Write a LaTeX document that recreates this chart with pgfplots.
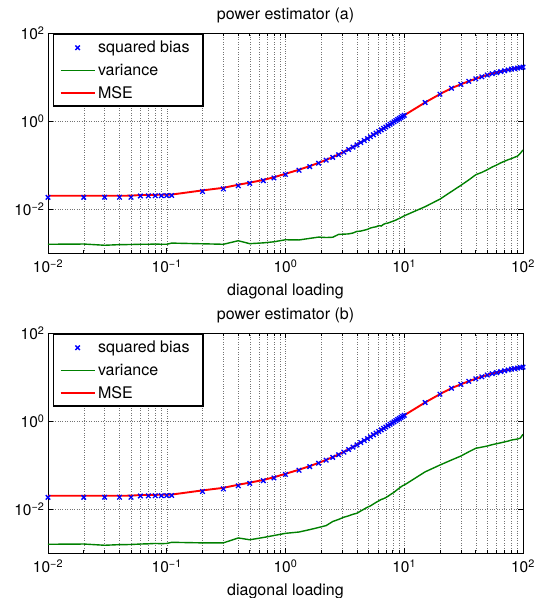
\documentclass[border=0pt]{standalone}
\usepackage{fontspec}
\setmainfont{TeX Gyre Heros}
\usepackage{pgfplots}
\usepackage{pgfplotstable}
\pgfplotsset{compat=1.18}
\pgfplotsset{
  linelegend/.style={legend image code/.code={\draw[##1] (0pt,0pt) -- (34pt,0pt);}},
  marklegend/.style={legend image code/.code={\draw[mark repeat=2,mark phase=2,##1] plot coordinates {(0pt,0pt) (17pt,0pt) (34pt,0pt)};}},
}
\pgfplotstableread{
x bias mse vara varb
0.01 0.0184 0.0200 0.00158 0.00158
0.02 0.0184 0.0200 0.00160 0.00160
0.03 0.0185 0.0200 0.00150 0.00150
0.04 0.0185 0.0200 0.00155 0.00155
0.05 0.0185 0.0201 0.00156 0.00156
0.06 0.0198 0.0208 0.00158 0.00160
0.07 0.0199 0.0209 0.00158 0.00162
0.08 0.0200 0.0210 0.00160 0.00165
0.09 0.0201 0.0211 0.00158 0.00163
0.1 0.0202 0.0212 0.00158 0.00165
0.11 0.0203 0.0213 0.00168 0.00175
0.2 0.0250 0.0265 0.00162 0.00170
0.3 0.0287 0.0303 0.00158 0.00170
0.4 0.0337 0.0356 0.00190 0.00220
0.5 0.0382 0.0398 0.00163 0.00200
0.65 0.0440 0.0457 0.00170 0.00225
0.8 0.0509 0.0527 0.00180 0.00250
1.0 0.0611 0.0631 0.00200 0.00280
1.3 0.0762 0.0782 0.00198 0.00300
1.6 0.0920 0.0942 0.00215 0.00340
1.9 0.110 0.112 0.00230 0.00380
2.2 0.129 0.131 0.00225 0.00420
2.5 0.149 0.151 0.00228 0.00520
2.8 0.171 0.174 0.00265 0.00580
3.1 0.196 0.199 0.00268 0.00650
3.4 0.225 0.228 0.00272 0.00700
3.7 0.255 0.258 0.00285 0.00760
4.0 0.287 0.290 0.00310 0.00800
4.3 0.324 0.327 0.00315 0.00900
4.6 0.360 0.363 0.00330 0.01000
4.9 0.398 0.402 0.00345 0.01100
5.2 0.440 0.444 0.00370 0.01180
5.5 0.485 0.489 0.00385 0.01300
5.8 0.531 0.535 0.00395 0.01420
6.1 0.578 0.582 0.00420 0.01530
6.4 0.628 0.632 0.00410 0.01650
6.7 0.679 0.683 0.00450 0.01720
7.0 0.730 0.735 0.00470 0.01820
7.3 0.784 0.789 0.00480 0.01950
7.6 0.840 0.845 0.00500 0.02100
7.9 0.898 0.903 0.00520 0.02250
8.2 0.957 0.962 0.00540 0.02400
8.5 1.017 1.023 0.00560 0.02600
8.8 1.080 1.086 0.00590 0.02800
9.1 1.142 1.148 0.00610 0.03000
9.4 1.208 1.214 0.00640 0.03200
9.7 1.275 1.282 0.00670 0.03400
10 1.342 1.349 0.00700 0.03500
15 2.63 2.64 0.0113 0.070
20 4.07 4.09 0.0168 0.100
25 5.55 5.58 0.025 0.130
30 6.81 6.84 0.0345 0.160
35 7.97 8.02 0.046 0.200
40 9.10 9.16 0.060 0.240
45 10.1 10.2 0.068 0.255
50 11.1 11.2 0.078 0.270
55 11.9 12.0 0.090 0.290
60 12.6 12.7 0.100 0.305
65 13.3 13.4 0.112 0.320
70 13.9 14.0 0.122 0.335
75 14.5 14.6 0.132 0.350
80 15.1 15.2 0.140 0.370
85 15.5 15.7 0.150 0.380
90 15.9 16.1 0.160 0.390
95 16.4 16.6 0.185 0.410
100 16.8 17.0 0.220 0.500
}\data
\definecolor{mgreen}{rgb}{0,0.5,0}
\begin{document}
\begin{tikzpicture}
\path[use as bounding box] (0pt,0pt) rectangle (536pt,-598pt);
\begin{loglogaxis}[at={(48pt,-253pt)}, anchor=south west, title={power estimator (a)},
    scale only axis, width=475pt, height=220pt,
    xmin=0.01, xmax=100, ymin=1e-3, ymax=1e2,
    xtick={0.01,0.1,1,10,100},
    xticklabels={10\textsuperscript{−2},10\textsuperscript{−1},10\textsuperscript{0},10\textsuperscript{1},10\textsuperscript{2}},
    minor xtick={0.02,0.03,0.04,0.05,0.06,0.07,0.08,0.09,0.2,0.3,0.4,0.5,0.6,0.7,0.8,0.9,2,3,4,5,6,7,8,9,20,30,40,50,60,70,80,90},
    ytick={0.01,1,100},
    yticklabels={10\textsuperscript{−2},10\textsuperscript{0},10\textsuperscript{2}},
    minor ytick={},
    xmajorgrids, xminorgrids, ymajorgrids,
    grid style={dotted, black!55, line width=0.45pt},
    minor grid style={dotted, black!55, line width=0.45pt},
    tick align=inside, major tick length=5pt, minor tick length=3pt,
    tick style={black, line width=0.6pt},
    axis line style={line width=0.8pt},
    ticklabel style={font=\fontsize{15.5}{18}\selectfont},
    xticklabel style={yshift=-3pt},
    label style={font=\fontsize{16}{19}\selectfont},
    xlabel style={yshift=-4pt},
    title style={font=\fontsize{16}{19}\selectfont},
    xlabel={diagonal loading},
    legend cell align=left,
    legend style={at={(0,1)}, anchor=north west, xshift=5pt, yshift=-1pt,
      line width=1.3pt, font=\fontsize{16}{19}\selectfont,
      inner xsep=6pt, inner ysep=4pt, row sep=4.5pt, nodes={inner sep=2.5pt}}]
\addplot[only marks, mark=x, blue, mark size=3.2pt, line width=1.3pt, marklegend] table[x=x,y=bias] {\data};
\addlegendentry{squared bias\hspace*{5pt}}
\addplot[mgreen, line width=1.4pt, no marks, linelegend] table[x=x,y=vara] {\data};
\addlegendentry{variance}
\addplot[red, line width=1.9pt, no marks, linelegend] table[x=x,y=mse] {\data};
\addlegendentry{MSE}
\end{loglogaxis}
\begin{loglogaxis}[at={(48pt,-553pt)}, anchor=south west, title={power estimator (b)},
    scale only axis, width=475pt, height=220pt,
    xmin=0.01, xmax=100, ymin=1e-3, ymax=1e2,
    xtick={0.01,0.1,1,10,100},
    xticklabels={10\textsuperscript{−2},10\textsuperscript{−1},10\textsuperscript{0},10\textsuperscript{1},10\textsuperscript{2}},
    minor xtick={0.02,0.03,0.04,0.05,0.06,0.07,0.08,0.09,0.2,0.3,0.4,0.5,0.6,0.7,0.8,0.9,2,3,4,5,6,7,8,9,20,30,40,50,60,70,80,90},
    ytick={0.01,1,100},
    yticklabels={10\textsuperscript{−2},10\textsuperscript{0},10\textsuperscript{2}},
    minor ytick={},
    xmajorgrids, xminorgrids, ymajorgrids,
    grid style={dotted, black!55, line width=0.45pt},
    minor grid style={dotted, black!55, line width=0.45pt},
    tick align=inside, major tick length=5pt, minor tick length=3pt,
    tick style={black, line width=0.6pt},
    axis line style={line width=0.8pt},
    ticklabel style={font=\fontsize{15.5}{18}\selectfont},
    xticklabel style={yshift=-3pt},
    label style={font=\fontsize{16}{19}\selectfont},
    xlabel style={yshift=-4pt},
    title style={font=\fontsize{16}{19}\selectfont},
    xlabel={diagonal loading},
    legend cell align=left,
    legend style={at={(0,1)}, anchor=north west, xshift=5pt, yshift=-1pt,
      line width=1.3pt, font=\fontsize{16}{19}\selectfont,
      inner xsep=6pt, inner ysep=4pt, row sep=4.5pt, nodes={inner sep=2.5pt}}]
\addplot[only marks, mark=x, blue, mark size=3.2pt, line width=1.3pt, marklegend] table[x=x,y=bias] {\data};
\addlegendentry{squared bias\hspace*{5pt}}
\addplot[mgreen, line width=1.4pt, no marks, linelegend] table[x=x,y=varb] {\data};
\addlegendentry{variance}
\addplot[red, line width=1.9pt, no marks, linelegend] table[x=x,y=mse] {\data};
\addlegendentry{MSE}
\end{loglogaxis}
\end{tikzpicture}
\end{document}
